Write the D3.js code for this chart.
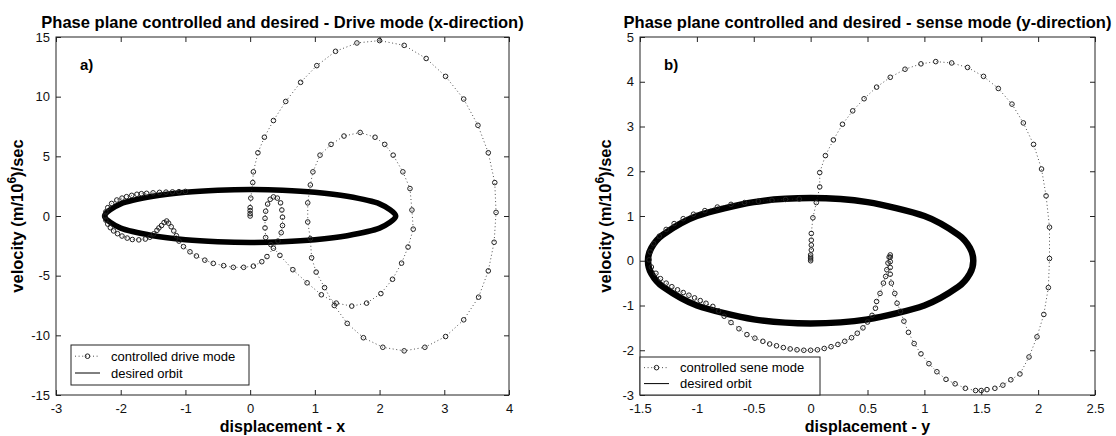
<!DOCTYPE html>
<html><head><meta charset="utf-8">
<script src="https://cdn.jsdelivr.net/npm/d3@7"></script>
<style>body{margin:0;background:#fff}svg{display:block}text{font-family:"Liberation Sans",Arial,sans-serif}</style>
</head><body><svg id="c" width="1116" height="436"></svg>
<script>
// ---------- panel a) drive mode: [displacement x, velocity] ----------
const xTicksA = [-3,-2,-1,0,1,2,3,4];
const yTicksA = [-15,-10,-5,0,5,10,15];
const drivePts = [
 [0,0],[0,0.2],[0,0.45],[0,0.7],[0.01,1.5],[0.04,2.8],[0.05,3.7],
 [0.12,5.3],[0.22,6.6],[0.36,8.0],[0.55,9.6],[0.78,11.2],[1.03,12.6],[1.32,13.8],[1.65,14.5],[2.0,14.7],
 [2.38,14.3],[2.72,13.2],[3.02,11.7],[3.3,9.8],[3.52,7.6],[3.68,5.3],[3.78,2.8],[3.8,0.3],[3.77,-2.2],
 [3.68,-4.6],[3.53,-6.8],[3.3,-8.7],[3.02,-10.1],[2.7,-11.0],[2.38,-11.3],[2.05,-11.0],[1.75,-10.2],
 [1.5,-9.0],[1.3,-7.5],[1.15,-6.0],[1.02,-4.7],[0.95,-3.5],[0.93,-1.9],[0.89,-0.5],[0.89,1.1],[0.93,2.6],
 [0.97,3.7],[1.08,5.1],[1.25,6.0],[1.45,6.7],[1.7,7.0],[1.93,6.6],[2.08,6.0],[2.21,5.1],[2.36,3.7],
 [2.47,2.3],[2.5,0.5],[2.52,-1.1],[2.44,-2.6],[2.34,-3.95],[2.2,-5.3],[2.02,-6.5],[1.8,-7.3],[1.57,-7.55],
 [1.33,-7.3],[1.1,-6.6],[0.88,-5.6],[0.66,-4.5],[0.46,-3.3],[0.32,-2.4],
 [0.24,-1.8],[0.23,-1.0],[0.23,-0.2],[0.24,0.4],[0.27,1.0],[0.31,1.4],[0.36,1.6],[0.42,1.5],[0.47,1.1],
 [0.49,0.5],[0.5,-0.1],[0.5,-0.8],[0.48,-1.4],[0.43,-2.1],
 [0.36,-2.7],[0.26,-3.4],[0.18,-3.83],[0.05,-4.2],[-0.1,-4.3],[-0.26,-4.3],[-0.41,-4.16],[-0.57,-3.97],
 [-0.7,-3.7],[-0.83,-3.35],[-0.93,-3.0],[-1.03,-2.57],[-1.1,-2.1],[-1.14,-1.65],[-1.18,-1.25],[-1.22,-0.9],
 [-1.26,-0.6],[-1.29,-0.42],[-1.33,-0.55],[-1.37,-0.8],[-1.41,-1.0],[-1.44,-1.2],[-1.49,-1.5],[-1.55,-1.78],
 [-1.62,-1.93],[-1.72,-2.0],[-1.82,-1.97],[-1.9,-1.85],[-1.98,-1.68],[-2.05,-1.48],[-2.11,-1.25],
 [-2.16,-0.98],[-2.2,-0.68],[-2.23,-0.35],[-2.24,0],[-2.23,0.35],[-2.2,0.7],[-2.14,1.05],[-2.06,1.34],
 [-1.98,1.5],[-1.91,1.62],[-1.83,1.73],[-1.75,1.82],[-1.68,1.87],[-1.6,1.9],[-1.5,1.94],[-1.4,1.98],
 [-1.3,2.0],[-1.2,2.02],[-1.1,2.04],[-1.0,2.06]
];
const orbitA = [[2.25,0],[2.0,1.02],[1.5,1.65],[1.0,1.99],[0.5,2.16],[0,2.22],[-0.5,2.16],[-1.0,1.99],[-1.5,1.65],[-2.0,1.02],
 [-2.25,0],[-2.0,-1.02],[-1.5,-1.65],[-1.0,-1.99],[-0.5,-2.16],[0,-2.22],[0.5,-2.16],[1.0,-1.99],[1.5,-1.65],[2.0,-1.02]];

// ---------- panel b) sense mode: [displacement y, velocity] ----------
const xTicksB = [-1.5,-1,-0.5,0,0.5,1,1.5,2,2.5];
const yTicksB = [-3,-2,-1,0,1,2,3,4,5];
const sensePts = [
 [0,0],[0,0.04],[0,0.08],[0,0.13],[0.006,0.24],[0.006,0.35],[0.006,0.46],[0.006,0.61],[0.02,0.96],[0.05,1.3],
 [0.08,1.65],[0.08,1.97],[0.13,2.35],[0.2,2.7],[0.28,3.05],[0.37,3.35],[0.47,3.62],[0.58,3.88],[0.7,4.1],
 [0.83,4.28],[0.97,4.4],[1.1,4.45],[1.24,4.42],[1.38,4.32],[1.52,4.12],[1.65,3.85],[1.77,3.5],[1.87,3.08],
 [1.96,2.6],[2.03,2.05],[2.07,1.45],[2.1,0.75],[2.1,0.05],[2.09,-0.6],[2.05,-1.2],[1.99,-1.7],[1.92,-2.15],
 [1.84,-2.53],[1.76,-2.66],[1.69,-2.78],[1.62,-2.85],[1.55,-2.88],[1.5,-2.9],[1.45,-2.9],[1.36,-2.85],
 [1.27,-2.75],[1.19,-2.65],[1.11,-2.48],[1.04,-2.3],[0.97,-2.08],[0.91,-1.85],[0.86,-1.6],[0.82,-1.35],
 [0.79,-1.13],[0.76,-0.95],[0.74,-0.73],[0.71,-0.5],[0.7,-0.3],[0.7,-0.15],[0.7,-0.02],[0.7,0.08],[0.7,0.13],
 [0.69,0.08],[0.68,-0.05],[0.67,-0.2],[0.66,-0.35],[0.64,-0.5],[0.61,-0.73],[0.58,-0.91],[0.57,-1.06],
 [0.54,-1.22],[0.5,-1.37],[0.46,-1.5],[0.41,-1.62],[0.36,-1.72],[0.3,-1.8],[0.24,-1.87],[0.18,-1.92],
 [0.12,-1.96],[0.06,-1.99],[0,-2.0],[-0.06,-2.0],[-0.12,-1.99],[-0.18,-1.97],[-0.24,-1.94],[-0.3,-1.9],
 [-0.36,-1.86],[-0.42,-1.8],[-0.49,-1.73],[-0.56,-1.65],[-0.63,-1.52],[-0.7,-1.38],[-0.76,-1.24],
 [-0.81,-1.12],[-0.86,-1.02],[-0.92,-0.95],[-0.97,-0.89],[-1.02,-0.83],[-1.07,-0.77],[-1.12,-0.71],
 [-1.17,-0.65],[-1.22,-0.58],[-1.27,-0.5],[-1.32,-0.4],[-1.36,-0.28],[-1.4,-0.14],[-1.42,0.02],[-1.41,0.2],
 [-1.38,0.38],[-1.33,0.55],[-1.27,0.7],[-1.2,0.83],[-1.12,0.94],[-1.03,1.04],[-0.93,1.12],[-0.82,1.2],
 [-0.7,1.26],[-0.58,1.3],[-0.46,1.33],[-0.34,1.35],[-0.22,1.37],[-0.1,1.38]
];
const orbitB = [[1.43,0],[1.4,0.29],[1.3,0.58],[1.0,1.0],[0.5,1.31],[0,1.4],[-0.5,1.31],[-1.0,1.0],[-1.3,0.58],[-1.4,0.29],
 [-1.43,0],[-1.4,-0.29],[-1.3,-0.58],[-1.0,-1.0],[-0.5,-1.31],[0,-1.4],[0.5,-1.31],[1.0,-1.0],[1.3,-0.58],[1.4,-0.29]];

const svg = d3.select("#c");
const FONT = "'Liberation Sans', Arial, sans-serif";

function panel(o){
  const g = svg.append("g");
  const x = d3.scaleLinear().domain(o.xd).range([o.L,o.R]);
  const y = d3.scaleLinear().domain(o.yd).range([o.B,o.T]);
  const orb = o.orbit.map(d=>[x(d[0]),y(d[1])]);
  const line = d3.line().curve(d3.curveCardinalClosed.tension(0.2));
  g.append("path").attr("d",line(orb)).attr("fill","none").attr("stroke","#000").attr("stroke-width",o.band);
  const pts = o.pts.map(d=>[x(d[0]),y(d[1])]);
  g.append("path").attr("d",d3.line()(pts)).attr("fill","none").attr("stroke","#222").attr("stroke-width",0.8).attr("stroke-dasharray","1,2.6");
  g.selectAll("circle.m").data(pts).join("circle").attr("class","m")
    .attr("cx",d=>d[0]).attr("cy",d=>d[1]).attr("r",2.3)
    .attr("fill","none").attr("stroke","#222").attr("stroke-width",1);
  const ax = g.append("g");
  ax.append("rect").attr("x",o.L).attr("y",o.T).attr("width",o.R-o.L).attr("height",o.B-o.T)
    .attr("fill","none").attr("stroke","#222").attr("stroke-width",1);
  const xg = ax.append("g").attr("transform",`translate(0,${o.B})`).call(d3.axisBottom(x).tickValues(o.xt).tickSize(-5).tickPadding(9).tickFormat(d=>String(d)));
  const xt = ax.append("g").attr("transform",`translate(0,${o.T})`).call(d3.axisTop(x).tickValues(o.xt).tickSize(-5).tickFormat(""));
  const yg = ax.append("g").attr("transform",`translate(${o.L},0)`).call(d3.axisLeft(y).tickValues(o.yt).tickSize(-5).tickPadding(6).tickFormat(d=>String(d)));
  const yr = ax.append("g").attr("transform",`translate(${o.R},0)`).call(d3.axisRight(y).tickValues(o.yt).tickSize(-5).tickFormat(""));
  [xg,xt,yg,yr].forEach(s=>{s.select(".domain").remove();s.selectAll("line").attr("stroke","#222");
    s.selectAll("text").attr("font-size",13).attr("fill","#111").attr("font-family",FONT);});
  g.append("text").attr("x",(o.L+o.R)/2).attr("y",28).attr("text-anchor","middle")
    .attr("font-weight","bold").attr("font-size",16.5).text(o.title);
  g.append("text").attr("x",(o.L+o.R)/2).attr("y",432).attr("text-anchor","middle")
    .attr("font-weight","bold").attr("font-size",16).text(o.xlabel);
  const yl = g.append("text").attr("transform",`translate(${o.ylx},${(o.T+o.B)/2}) rotate(-90)`)
    .attr("text-anchor","middle").attr("font-weight","bold").attr("font-size",16.5);
  yl.append("tspan").text("velocity (m/10");
  yl.append("tspan").attr("dy",-7).attr("font-size",12).text("6");
  yl.append("tspan").attr("dy",7).text(")/sec");
  g.append("text").attr("x",o.L+24).attr("y",70).attr("font-weight","bold").attr("font-size",15).text(o.tag);
  const lg = g.append("g");
  lg.append("rect").attr("x",o.lg.x).attr("y",o.lg.y).attr("width",o.lg.w).attr("height",o.lg.h)
    .attr("fill","#fff").attr("stroke","#222").attr("stroke-width",1);
  const r1 = o.lg.y + o.lg.h*0.28, r2 = o.lg.y + o.lg.h*0.7;
  lg.append("line").attr("x1",o.lg.x+4).attr("x2",o.lg.x+29).attr("y1",r1).attr("y2",r1)
    .attr("stroke","#222").attr("stroke-width",0.8).attr("stroke-dasharray","1,2.6");
  lg.append("circle").attr("cx",o.lg.x+16.5).attr("cy",r1).attr("r",2.3).attr("fill","none").attr("stroke","#222");
  lg.append("line").attr("x1",o.lg.x+4).attr("x2",o.lg.x+29).attr("y1",r2).attr("y2",r2).attr("stroke","#000").attr("stroke-width",1);
  lg.append("text").attr("x",o.lg.x+40).attr("y",r1+4.5).attr("font-size",13).text(o.leg1);
  lg.append("text").attr("x",o.lg.x+40).attr("y",r2+4.5).attr("font-size",13).text("desired orbit");
}

panel({L:56,R:509,T:37,B:395,xd:[-3,4],yd:[-15,15],xt:xTicksA,yt:yTicksA,
  pts:drivePts,orbit:orbitA,band:5.5,
  title:"Phase plane controlled and desired - Drive mode (x-direction)",xlabel:"displacement - x",
  ylx:23,tag:"a)",leg1:"controlled drive mode",lg:{x:71,y:345,w:178,h:40}});
panel({L:640,R:1095,T:37,B:395,xd:[-1.5,2.5],yd:[-3,5],xt:xTicksB,yt:yTicksB,
  pts:sensePts,orbit:orbitB,band:6.5,
  title:"Phase plane controlled and desired - sense mode (y-direction)",xlabel:"displacement - y",
  ylx:611,tag:"b)",leg1:"controlled sene mode",lg:{x:640,y:357,w:180,h:38}});
</script></body></html>
